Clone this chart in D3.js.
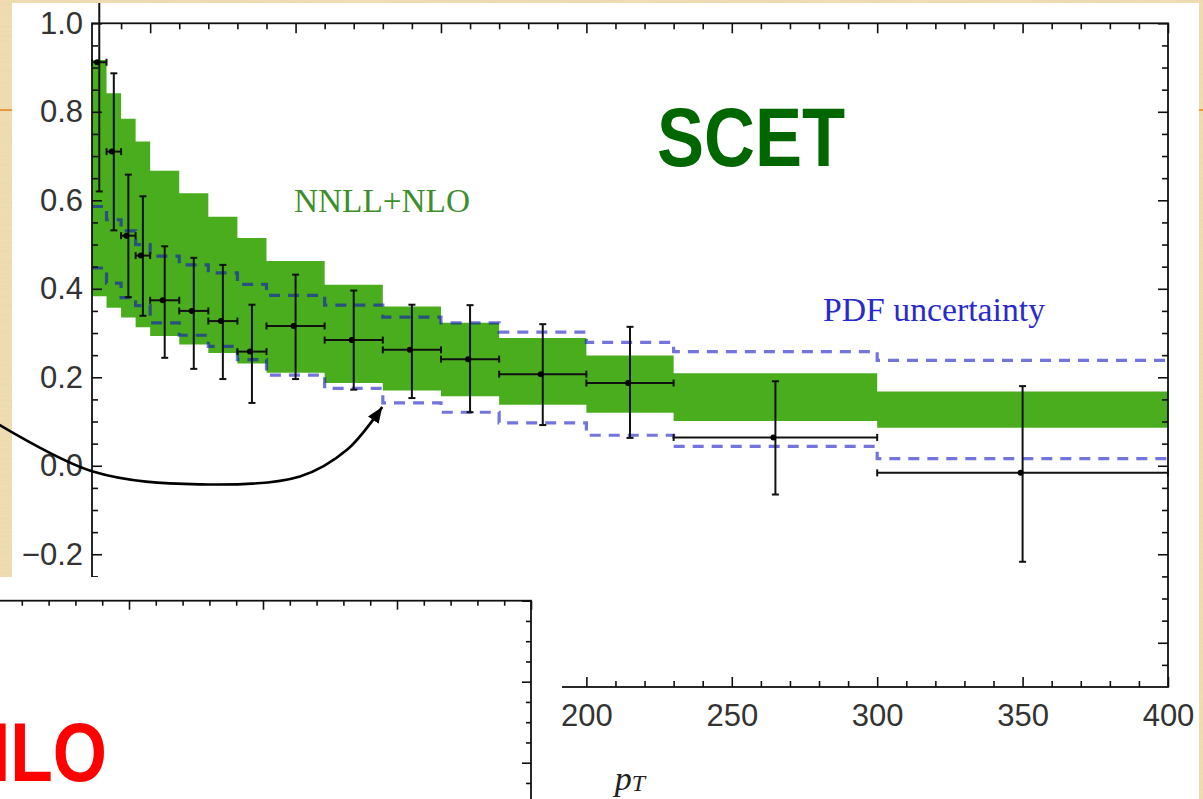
<!DOCTYPE html>
<html>
<head>
<meta charset="utf-8">
<script src="https://cdn.jsdelivr.net/npm/d3@7"></script>
<style>
  html, body { margin: 0; padding: 0; background: #efdcb0; overflow: hidden; }
  svg { display: block; }
</style>
</head>
<body>
<svg id="chart" width="1203" height="799"></svg>
<script>
// ---------------------------------------------------------------
// Data: (data - theory)/theory style ratio versus photon pT
// ---------------------------------------------------------------
const binEdges = [30, 35, 40, 45, 50, 60, 70, 80, 90, 110, 130, 150, 170, 200, 230, 300, 400];

// NNLL+NLO scale band (per bin)
const scetLow  = [0.383, 0.357, 0.335, 0.313, 0.293, 0.274, 0.255, 0.231, 0.210, 0.187, 0.170, 0.157, 0.138, 0.120, 0.101, 0.086];
const scetHigh = [0.917, 0.842, 0.784, 0.733, 0.667, 0.616, 0.563, 0.515, 0.463, 0.409, 0.360, 0.323, 0.289, 0.249, 0.209, 0.168];

// PDF uncertainty envelope (per bin)
const pdfLow  = [0.447, 0.413, 0.380, 0.362, 0.323, 0.295, 0.270, 0.240, 0.205, 0.175, 0.142, 0.121, 0.097, 0.069, 0.044, 0.016];
const pdfHigh = [0.586, 0.556, 0.531, 0.500, 0.474, 0.454, 0.436, 0.410, 0.385, 0.363, 0.336, 0.323, 0.302, 0.279, 0.258, 0.238];

// Measured points with their error range (per bin)
const dataValue   = [0.912, 0.710, 0.520, 0.475, 0.374, 0.350, 0.327, 0.258, 0.316, 0.284, 0.262, 0.241, 0.207, 0.187, 0.064, -0.016];
const dataErrLow  = [0.620, 0.532, 0.381, 0.339, 0.244, 0.219, 0.196, 0.142, 0.196, 0.172, 0.153, 0.121, 0.092, 0.063, -0.065, -0.217];
const dataErrHigh = [1.210, 0.887, 0.658, 0.609, 0.496, 0.470, 0.454, 0.364, 0.432, 0.396, 0.364, 0.363, 0.320, 0.314, 0.191, 0.180];

// Axis ticks
const xMajorTicks = [50, 100, 150, 200, 250, 300, 350, 400];
const yMajorTicks = [-0.4, -0.2, 0.0, 0.2, 0.4, 0.6, 0.8, 1.0];

// Curved pointer (pT, ratio) running to the lower PDF edge
const pointerPath = [[-5, 0.105], [30.3, -0.013], [67, -0.042], [101.5, -0.024], [118, 0.038], [129.8, 0.133]];

// ---------------------------------------------------------------
const svg = d3.select("#chart");
const W = 1203, H = 799;

const defs = svg.append("defs");

// paper grain for the slide background
const grain = defs.append("filter").attr("id", "grain").attr("x", 0).attr("y", 0).attr("width", "100%").attr("height", "100%");
grain.append("feTurbulence").attr("type", "fractalNoise").attr("baseFrequency", "0.015 0.45").attr("numOctaves", 3).attr("seed", 7);
grain.append("feColorMatrix").attr("type", "matrix")
  .attr("values", "0 0 0 0 0.78  0 0 0 0 0.66  0 0 0 0 0.42  1.0 0 0 0 -0.42");

defs.append("clipPath").attr("id", "mainClip")
  .append("rect").attr("x", 12).attr("y", 3).attr("width", 1187).attr("height", 800);

defs.append("marker").attr("id", "arrowHead")
  .attr("viewBox", "-16 -7 17 14").attr("refX", 0).attr("refY", 0)
  .attr("markerWidth", 17).attr("markerHeight", 14).attr("markerUnits", "userSpaceOnUse")
  .attr("orient", "auto")
  .append("path").attr("d", "M-16,-6.5L0,0L-16,6.5Z").attr("fill", "#000");

// slide background
svg.append("rect").attr("width", W).attr("height", H).attr("fill", "#efdcb0");
svg.append("rect").attr("width", W).attr("height", H).attr("filter", "url(#grain)");
svg.append("line").attr("x1", 0).attr("x2", W).attr("y1", 110).attr("y2", 110)
  .attr("stroke", "#e89a3c").attr("stroke-width", 2);

// main figure
svg.append("rect").attr("x", 12).attr("y", 3).attr("width", 1187).attr("height", 800).attr("fill", "#fff");

const x = d3.scaleLinear().domain([30, 400]).range([92, 1168]);
const y = d3.scaleLinear().domain([-0.5, 1.0]).range([687, 23.3]);

const main = svg.append("g").attr("clip-path", "url(#mainClip)");

const stepped = (vals) => binEdges.map((e, i) => ({ x: e, v: vals[Math.min(i, vals.length - 1)] }));
const steppedBand = binEdges.map((e, i) => {
  const k = Math.min(i, scetLow.length - 1);
  return { x: e, lo: scetLow[k], hi: scetHigh[k] };
});

// NNLL+NLO band
main.append("path")
  .datum(steppedBand)
  .attr("fill", "#4aad1e")
  .attr("d", d3.area().x(d => x(d.x)).y0(d => y(d.lo)).y1(d => y(d.hi)).curve(d3.curveStepAfter));

// PDF envelope
const stepLine = d3.line().x(d => x(d.x)).y(d => y(d.v)).curve(d3.curveStepAfter);
[pdfHigh, pdfLow].forEach(vals => {
  main.append("path")
    .datum(stepped(vals))
    .attr("fill", "none")
    .attr("stroke", "#1010c8")
    .attr("stroke-opacity", 0.58)
    .attr("stroke-width", 3.2)
    .attr("stroke-dasharray", "11,8")
    .attr("d", stepLine);
});

// data points with error bars
const points = dataValue.map((v, i) => ({
  x0: binEdges[i], x1: binEdges[i + 1], xc: (binEdges[i] + binEdges[i + 1]) / 2,
  v, lo: dataErrLow[i], hi: dataErrHigh[i]
}));
const cap = 3.5;
const pg = main.append("g").attr("stroke", "#111").attr("stroke-width", 2);
const pt = pg.selectAll("g.pt").data(points).join("g").attr("class", "pt");
pt.append("line").attr("x1", d => x(d.xc)).attr("x2", d => x(d.xc)).attr("y1", d => y(d.lo)).attr("y2", d => y(d.hi));
pt.append("line").attr("x1", d => x(d.xc) - cap).attr("x2", d => x(d.xc) + cap).attr("y1", d => y(d.lo)).attr("y2", d => y(d.lo));
pt.append("line").attr("x1", d => x(d.xc) - cap).attr("x2", d => x(d.xc) + cap).attr("y1", d => y(d.hi)).attr("y2", d => y(d.hi));
pt.append("line").attr("x1", d => x(d.x0)).attr("x2", d => x(d.x1)).attr("y1", d => y(d.v)).attr("y2", d => y(d.v));
pt.append("line").attr("x1", d => x(d.x0)).attr("x2", d => x(d.x0)).attr("y1", d => y(d.v) - cap).attr("y2", d => y(d.v) + cap);
pt.append("line").attr("x1", d => x(d.x1)).attr("x2", d => x(d.x1)).attr("y1", d => y(d.v) - cap).attr("y2", d => y(d.v) + cap);
pt.append("circle").attr("cx", d => x(d.xc) - 2).attr("cy", d => y(d.v)).attr("r", 3).attr("fill", "#000").attr("stroke", "none");

// frame with inward ticks on all four sides
function drawFrame(g, xs, ys, opt) {
  const [xa, xb] = xs.range();
  const [ya, yb] = ys.range(); // ya bottom, yb top
  const [d0, d1] = xs.domain();
  const xMinor = d3.range(d0 + 10, d1, 10).filter(v => v % 50 !== 0);
  const yMinor = d3.range(-9, 20).filter(i => i % 4 !== 0).map(i => i / 20);
  const style = sel => {
    sel.select(".domain").remove();
    sel.selectAll(".tick line").attr("stroke", "#111").attr("stroke-width", 1.6);
  };
  const add = (axis, tr) => g.append("g").attr("transform", tr).call(axis).call(style);

  add(d3.axisBottom(xs).tickValues(xMajorTicks).tickSize(-opt.major).tickPadding(opt.xPad)
      .tickFormat(opt.labels ? d3.format("d") : ""), `translate(0,${ya})`);
  add(d3.axisBottom(xs).tickValues(xMinor).tickSize(-opt.minor).tickFormat(""), `translate(0,${ya})`);
  add(d3.axisTop(xs).tickValues(xMajorTicks).tickSize(-opt.major).tickFormat(""), `translate(0,${yb})`);
  add(d3.axisTop(xs).tickValues(xMinor).tickSize(-opt.minor).tickFormat(""), `translate(0,${yb})`);
  add(d3.axisLeft(ys).tickValues(yMajorTicks).tickSize(-opt.major).tickPadding(opt.yPad)
      .tickFormat(opt.labels ? d3.format(".1f") : ""), `translate(${xa},0)`);
  add(d3.axisLeft(ys).tickValues(yMinor).tickSize(-opt.minor).tickFormat(""), `translate(${xa},0)`);
  add(d3.axisRight(ys).tickValues(yMajorTicks).tickSize(-opt.major).tickFormat(""), `translate(${xb},0)`);
  add(d3.axisRight(ys).tickValues(yMinor).tickSize(-opt.minor).tickFormat(""), `translate(${xb},0)`);

  g.selectAll(".tick text")
    .attr("font-family", "'Liberation Sans', Arial, sans-serif")
    .attr("font-size", 31)
    .attr("fill", "#333");

  g.append("rect")
    .attr("x", xa).attr("y", yb).attr("width", xb - xa).attr("height", ya - yb)
    .attr("fill", "none").attr("stroke", "#111").attr("stroke-width", 1.8);
}

const frame = main.append("g");
drawFrame(frame, x, y, { major: 10, minor: 6, xPad: 17, yPad: 9, labels: true });

// annotations
main.append("text")
  .attr("x", 294).attr("y", 211.5)
  .attr("font-family", "'Liberation Serif', 'Times New Roman', serif")
  .attr("font-size", 33).attr("fill", "#3c8f2c")
  .attr("textLength", 176).attr("lengthAdjust", "spacingAndGlyphs")
  .text("NNLL+NLO");

main.append("text")
  .attr("x", 823).attr("y", 321)
  .attr("font-family", "'Liberation Serif', 'Times New Roman', serif")
  .attr("font-size", 33).attr("fill", "#2a2acc")
  .attr("textLength", 222).attr("lengthAdjust", "spacingAndGlyphs")
  .text("PDF uncertainty");

main.append("text")
  .attr("x", 657).attr("y", 166)
  .attr("font-family", "'Liberation Sans', Arial, sans-serif")
  .attr("font-weight", "bold")
  .attr("font-size", 83).attr("fill", "#006600")
  .attr("textLength", 188).attr("lengthAdjust", "spacingAndGlyphs")
  .text("SCET");

const xTitle = main.append("text")
  .attr("x", (x.range()[0] + x.range()[1]) / 2).attr("y", 790)
  .attr("text-anchor", "middle")
  .attr("font-family", "'Liberation Serif', 'Times New Roman', serif")
  .attr("font-style", "italic").attr("fill", "#222");
xTitle.append("tspan").attr("font-size", 34).text("p");
xTitle.append("tspan").attr("font-size", 24).attr("dy", 1).text("T");

// curved pointer
svg.append("path")
  .datum(pointerPath)
  .attr("fill", "none").attr("stroke", "#000").attr("stroke-width", 2.6)
  .attr("marker-end", "url(#arrowHead)")
  .attr("d", d3.line().x(d => x(d[0])).y(d => y(d[1])).curve(d3.curveCatmullRom.alpha(0.5)));

// overlapping NLO figure (lower left)
svg.append("rect").attr("x", 0).attr("y", 577).attr("width", 562).attr("height", 230).attr("fill", "#fff");
const x2 = d3.scaleLinear().domain([30, 400]).range([531 - 370 * 2.68, 531]);
const y2 = d3.scaleLinear().domain([-0.5, 1.0]).range([600.7 + 1.5 * 405, 600.7]);
const nlo = svg.append("g");
drawFrame(nlo, x2, y2, { major: 9, minor: 5, xPad: 15, yPad: 8, labels: false });

// heading of the overlapping figure, running off the left edge of the slide
svg.append("text")
  .attr("x", -40).attr("y", 780.5)
  .attr("font-family", "'Liberation Sans', Arial, sans-serif")
  .attr("font-weight", "bold")
  .attr("font-size", 83).attr("fill", "#ff0000")
  .attr("textLength", 147).attr("lengthAdjust", "spacingAndGlyphs")
  .text("NLO");
</script>
</body>
</html>
